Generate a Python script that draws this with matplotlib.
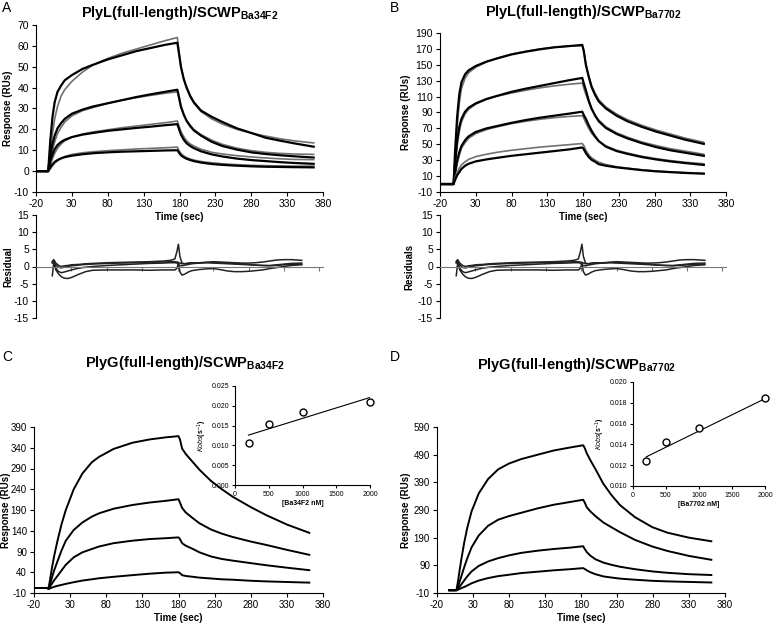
import numpy as np
import matplotlib
matplotlib.use("Agg")
import matplotlib.pyplot as plt

plt.rcParams['font.family'] = ['Liberation Sans', 'DejaVu Sans']
plt.rcParams['mathtext.fontset'] = 'custom'
plt.rcParams['mathtext.rm'] = 'Liberation Sans'
plt.rcParams['mathtext.it'] = 'Liberation Sans:italic'
plt.rcParams['mathtext.bf'] = 'Liberation Sans:bold'
plt.rcParams['axes.unicode_minus'] = False

# ---------------- panel A : PlyL / SCWP Ba34F2 (fit = black, data = grey)
t_a = [-20, -3, 0, 3, 6, 10, 15, 20, 30, 45, 60, 80, 100, 120, 140, 160, 177,
       179, 182, 186, 190, 195, 200, 210, 225, 240, 260, 280, 300, 320, 340, 367]
fit_a = [
    [0, 0, 15, 26, 33, 38, 41, 43.5, 46, 49, 51, 53.5, 55.5, 57.5, 59, 60.5, 61.5,
     57, 50, 44, 40, 36, 33, 29, 26, 23.5, 20.5, 18.3, 16, 14.6, 13.3, 11.7],
    [0, 0, 8, 13, 17, 20.5, 23, 25, 27.5, 29.5, 31, 32.5, 34, 35.5, 36.8, 38, 39,
     36, 31, 27, 24, 21.5, 19.5, 17, 14, 12, 10.3, 9, 8.2, 7.6, 7.1, 6.5],
    [0, 0, 5, 8, 10.5, 12.5, 14, 15, 16.3, 17.5, 18.3, 19.3, 20, 20.7, 21.3, 22, 22.5,
     20.5, 17.5, 15, 13.3, 12, 11, 9.5, 8, 7, 6, 5.3, 4.8, 4.3, 3.9, 3.5],
    [0, 0, 2, 3.3, 4.4, 5.3, 6.1, 6.7, 7.4, 8.1, 8.6, 9, 9.3, 9.5, 9.7, 9.9, 10,
     9, 7.6, 6.6, 5.9, 5.3, 4.8, 4.1, 3.4, 3, 2.6, 2.3, 2.1, 2, 1.9, 1.8],
]
data_a = [
    [0, 0, 10, 18, 25, 31, 36, 39, 43, 47.5, 51, 54, 56.5, 58.5, 60.5, 62.5, 64,
     58, 50, 44, 39.5, 35.5, 32.5, 28.5, 25, 22.5, 20, 18.2, 16.8, 15.5, 14.5, 13.5],
    [0, 0, 5, 10, 14, 18, 21, 23.5, 26.5, 29, 30.5, 32.5, 34, 35.2, 36.3, 37.3, 38,
     35, 30.5, 27, 24.3, 22, 20, 17.5, 14.8, 12.8, 11, 9.8, 9, 8.5, 8.2, 8],
    [0, 0, 3, 6, 8.5, 11, 13, 14.5, 16.3, 17.8, 18.8, 19.8, 20.8, 21.6, 22.4, 23.2, 24,
     22, 19, 16.5, 14.5, 13, 12, 10.5, 9, 8.2, 7.4, 6.8, 6.3, 5.9, 5.6, 5.5],
    [0, 0, 1, 2.5, 3.8, 5, 6.2, 7, 8, 8.8, 9.3, 9.8, 10.2, 10.6, 10.9, 11.2, 11.5,
     10, 8.5, 7.3, 6.5, 5.8, 5.3, 4.6, 4, 3.5, 3.1, 2.8, 2.6, 2.5, 2.4, 2.4],
]

# ---------------- panel B : PlyL / SCWP Ba7702
t_b = [-20, -1, 1, 4, 7, 10, 15, 20, 30, 45, 60, 80, 100, 120, 140, 160, 179,
       181, 184, 188, 192, 197, 202, 212, 227, 242, 262, 282, 302, 322, 349]
fit_b = [
    [0, 0, 40, 85, 113, 128, 138, 143, 148.5, 154, 158, 163, 166.5, 169.5, 172, 173.5, 175,
     168, 150, 135, 122, 112, 104, 95, 86, 79, 72, 66, 61, 56, 50.5],
    [0, 0, 25, 55, 72, 82, 91, 96, 101.5, 107, 111, 116, 120, 123.5, 127, 130.5, 133.5,
     127, 118, 105, 95, 86, 79, 70.5, 63, 57.5, 51.5, 46.5, 42.5, 39.5, 35.5],
    [0, 0, 14, 30, 40, 48, 55, 60, 65.5, 70, 73, 77, 80.5, 83.5, 86, 88.5, 91,
     87, 82, 74, 67, 60, 54, 47, 41.5, 38, 34, 31, 28.5, 26.5, 24],
    [0, 0, 5, 11, 15, 19, 23, 25.5, 28.5, 31, 33, 35.5, 37.5, 39.5, 41.5, 43.5, 46,
     44, 39, 34, 30.5, 28, 25, 23, 21, 19.5, 17.5, 16, 15, 14, 13],
]
data_b = [
    [0, 0, 30, 72, 102, 120, 133, 140, 147, 153.5, 158.5, 163.5, 167, 170, 172, 173.5, 174,
     167, 151, 136, 124, 114, 106, 97, 88, 81, 74, 68, 63, 58, 52.5],
    [0, 0, 20, 48, 66, 78, 88, 94, 100.5, 106.5, 110.5, 114.5, 118, 121, 123.5, 125.5, 127,
     121, 113, 103, 94, 86.5, 80.5, 72, 64.5, 59, 53, 48.5, 44.5, 41.5, 37.5],
    [0, 0, 10, 25, 36, 45, 52, 57.5, 63.5, 68.5, 72, 76, 79, 81.5, 83.5, 85, 86,
     83, 77, 70, 64, 58.5, 54, 48, 42.5, 39, 35, 32, 29.5, 27.5, 25.5],
    [0, 0, 7, 15, 20, 24, 28, 31, 34.5, 37.5, 40, 42.5, 44.5, 46.5, 48, 49.5, 51,
     48.5, 42.5, 37, 33, 30, 27.5, 24.5, 21.8, 20, 18, 16.5, 15.3, 14.5, 13.5],
]

# ---------------- residuals (same traces shown under A and B)
t_res = [3, 5, 8, 12, 16, 20, 25, 30, 40, 50, 60, 80, 100, 120, 140, 160, 170, 176, 179, 181,
         183, 186, 190, 195, 200, 210, 220, 230, 240, 250, 260, 270, 280, 290, 300, 310,
         320, 330, 340, 355]
res = [
    [1.5, 2, 1, 0.3, 0, 0.2, 0.3, 0.5, 0.6, 0.8, 0.9, 1.1, 1.2, 1.3, 1.4, 1.6, 1.8, 2.2, 4.5, 6.5,
     3, 1, 0.8, 1, 1.1, 1, 1.2, 1.4, 1.3, 1.2, 1.1, 1, 1, 1.1, 1.3, 1.6, 1.9, 2, 2, 1.8],
    [1, 1.5, 0.5, -0.3, -0.4, -0.2, 0, 0.2, 0.4, 0.6, 0.7, 0.9, 1, 1.1, 1.2, 1.3, 1.4, 1.4, 1.3, 1.2,
     1, 0.8, 0.8, 0.9, 1, 1.1, 1.2, 1.2, 1.1, 1, 0.9, 0.8, 0.6, 0.4, 0.3, 0.3, 0.5, 0.7, 0.9, 1],
    [-2.7, 1, -1, -2.2, -3, -3.4, -3.5, -3.2, -2.3, -1.5, -1.1, -1, -1, -1, -1.1, -1, -1, -1, -0.5, 1,
     -1.5, -2.5, -2.2, -1.6, -1.2, -0.9, -0.7, -0.6, -0.9, -1.3, -1.5, -1.5, -1.4, -1.2, -1, -0.6,
     -0.3, 0, 0.3, 0.5],
    [1.2, 1.8, -0.5, -1.5, -1.8, -1.6, -1.3, -1, -0.5, -0.2, 0, 0.3, 0.5, 0.7, 0.9, 1, 1.1, 1.1, 1, 0.5,
     0.3, 0.2, 0.4, 0.6, 0.8, 1, 1.1, 1, 0.9, 0.8, 0.7, 0.6, 0.5, 0.4, 0.3, 0.2, 0.3, 0.5, 0.6, 0.7],
]

# ---------------- panel C : PlyG / SCWP Ba34F2
t_c = [-20, -1, 0, 2, 5, 8, 12, 18, 24, 35, 47, 60, 70, 90, 116, 140, 162, 180,
       182, 185, 190, 200, 209, 225, 240, 255, 280, 301, 330, 361]
resp_c = [
    [2, 2, 0, 20, 52, 80, 112, 155, 190, 240, 278, 305, 318, 337, 352, 360, 365, 368,
     360, 338, 325, 305, 287, 260, 240, 222, 197, 178, 155, 135],
    [2, 2, 0, 10, 28, 45, 64, 92, 116, 142, 160, 174, 182, 193, 202, 208, 212, 216,
     208, 195, 184, 170, 158, 143, 133, 125, 114, 106, 94, 82],
    [2, 2, 0, 5, 13, 21, 30, 44, 58, 76, 88, 96, 102, 110, 116, 120, 122, 124,
     120, 110, 104, 96, 88, 78, 72, 68, 62, 57, 51, 45],
    [2, 2, 0, 1, 3, 5, 7, 9.5, 12, 16, 20, 23, 25.5, 29, 33, 36.5, 39, 40,
     38, 33, 31, 29, 27, 25, 23, 22, 19.5, 18, 16.5, 15],
]
conc_c = [200, 500, 1000, 2000]
kobs_c = [0.0105, 0.0155, 0.0184, 0.0210]
line_x_c = [200, 2000]
line_y_c = [0.0126, 0.0221]

# ---------------- panel D : PlyG / SCWP Ba7702
t_d = [-3, 7, 9, 11, 14, 18, 22, 28, 38, 51, 65, 80, 97, 120, 142, 165, 183,
       185, 188, 193, 200, 211, 222, 234, 255, 279, 300, 330, 361]
resp_d = [
    [0, 0, 30, 65, 115, 175, 225, 285, 350, 402, 437, 458, 474, 490, 505, 516, 524,
     515, 495, 470, 438, 385, 345, 308, 264, 228, 208, 190, 177],
    [0, 0, 12, 28, 52, 85, 115, 155, 198, 233, 255, 268, 280, 296, 309, 319, 327,
     318, 300, 285, 268, 245, 228, 210, 182, 158, 142, 124, 110],
    [0, 0, 5, 12, 22, 36, 50, 68, 88, 104, 116, 126, 135, 143, 149, 154, 159,
     150, 138, 125, 112, 100, 92, 85, 76, 68, 63, 58, 55],
    [0, 0, 2, 4, 8, 12, 17, 25, 35, 44, 51, 56, 62, 67, 72, 76, 80,
     77, 72, 65, 58, 50, 46, 42, 38, 34, 32, 30, 28],
]
conc_d = [200, 500, 1000, 2000]
kobs_d = [0.0124, 0.0142, 0.0156, 0.0185]
line_x_d = [200, 2000]
line_y_d = [0.0128, 0.0184]

time_ticks = np.arange(-20, 381, 50)
W, H = 775, 625


def box(l, t, r, b):
    return [l / W, 1 - b / H, (r - l) / W, (b - t) / H]


def style(ax, fs=7.5):
    ax.spines['top'].set_visible(False)
    ax.spines['right'].set_visible(False)
    ax.tick_params(direction='out', length=3, width=0.8, labelsize=fs, pad=2)


def place_ylabel(ax, rect, xpix):
    # centre the y label at a fixed pixel column
    left = rect[0] * W
    width = rect[2] * W
    ax.yaxis.set_label_coords((xpix - left) / width, 0.5)


def main_axes(rect, ylim, yticks, xpix, fs=7.5):
    ax = fig.add_axes(rect)
    style(ax, fs)
    ax.set_xlim(-20, 380)
    ax.set_xticks(time_ticks)
    ax.set_ylim(*ylim)
    ax.set_yticks(yticks)
    ax.set_xlabel('Time (sec)', fontsize=7, fontweight='bold', labelpad=2)
    ax.set_ylabel('Response (RUs)', fontsize=7, fontweight='bold', va='center')
    place_ylabel(ax, rect, xpix)
    return ax


def resid_axes(rect, label, xpix):
    ax = fig.add_axes(rect)
    ax.patch.set_alpha(0)
    style(ax)
    ax.set_xlim(-20, 385)
    ax.set_xticks(time_ticks)
    ax.set_xticklabels([])
    ax.spines['bottom'].set_position(('data', 0))
    ax.spines['bottom'].set_color('#777777')
    ax.tick_params(axis='x', colors='#777777')
    ax.set_ylim(-15, 15)
    ax.set_yticks(np.arange(-15, 16, 5))
    ax.set_ylabel(label, fontsize=7, fontweight='bold', va='center')
    place_ylabel(ax, rect, xpix)
    for r in res:
        ax.plot(t_res, r, color='#222222', lw=1.1)
    return ax


def inset(rect, cx, ky, lx, ly, ylim, yticks, xlabel):
    ax = fig.add_axes(rect)
    style(ax, fs=5)
    ax.tick_params(length=2)
    ax.plot(lx, ly, color='black', lw=0.8)
    ax.plot(cx, ky, 'o', mfc='white', mec='black', ms=5, mew=1, clip_on=False)
    ax.set_xlim(0, 2000)
    ax.set_xticks([0, 500, 1000, 1500, 2000])
    ax.set_ylim(*ylim)
    ax.set_yticks(yticks)
    ax.set_yticklabels(['%.3f' % v for v in yticks])
    ax.set_xlabel(xlabel, fontsize=5, fontweight='bold', labelpad=2)
    ax.set_ylabel(r'$\mathbf{\it{Kobs}}$(s$^{-1}$)', fontsize=5, fontweight='bold', labelpad=2)
    return ax


fig = plt.figure(figsize=(7.75, 6.25), dpi=100)

# A
r = box(36, 215, 323, 318)
resid_axes(r, 'Residual', 8)
r = box(36, 25, 323, 192)
ax = main_axes(r, (-10, 70), np.arange(-10, 71, 10), 8)
for f, d in zip(fit_a, data_a):
    ax.plot(t_a, d, color='#707070', lw=1.2)
    ax.plot(t_a, f, color='black', lw=1.6)
ax.set_title(r'PlyL(full-length)/SCWP$_{\mathbf{Ba34F2}}$', fontsize=10.5,
             fontweight='bold', pad=6)

# B
r = box(440, 215, 726, 318)
resid_axes(r, 'Residuals', 409)
r = box(440, 33, 726, 192)
ax = main_axes(r, (-10, 190), np.arange(-10, 191, 20), 406)
for f, d in zip(fit_b, data_b):
    ax.plot(t_b, d, color='#707070', lw=1.2)
    ax.plot(t_b, f, color='black', lw=1.6)
ax.set_title(r'PlyL(full-length)/SCWP$_{\mathbf{Ba7702}}$', fontsize=10.5,
             fontweight='bold', pad=12)

# C
r = box(34, 427, 323, 593)
ax = main_axes(r, (-10, 390), np.arange(-10, 391, 50), 6, fs=7)
for resp in resp_c:
    ax.plot(t_c, resp, color='black', lw=1.4)
inset(box(235, 386, 370, 485), conc_c, kobs_c, line_x_c, line_y_c,
      (0, 0.025), np.arange(0, 0.0251, 0.005), '[Ba34F2 nM]')

# D
r = box(437, 427, 725, 593)
ax = main_axes(r, (-10, 590), np.arange(-10, 591, 100), 406, fs=7)
for resp in resp_d:
    ax.plot(t_d, resp, color='black', lw=1.4)
inset(box(633, 382, 765, 486), conc_d, kobs_d, line_x_d, line_y_d,
      (0.010, 0.020), np.arange(0.010, 0.0201, 0.002), '[Ba7702 nM]')

# titles for lower panels and panel letters
fig.text(185 / W, 1 - 363 / H, r'PlyG(full-length)/SCWP$_{\mathbf{Ba34F2}}$',
         fontsize=10.5, fontweight='bold', ha='center', va='center')
fig.text(577 / W, 1 - 365 / H, r'PlyG(full-length)/SCWP$_{\mathbf{Ba7702}}$',
         fontsize=10.5, fontweight='bold', ha='center', va='center')
for lab, x, y in [('A', 2, 8), ('B', 390, 8), ('C', 2, 357), ('D', 390, 357)]:
    fig.text(x / W, 1 - y / H, lab, fontsize=10, ha='left', va='center')

fig.savefig('out.png', dpi=100)
